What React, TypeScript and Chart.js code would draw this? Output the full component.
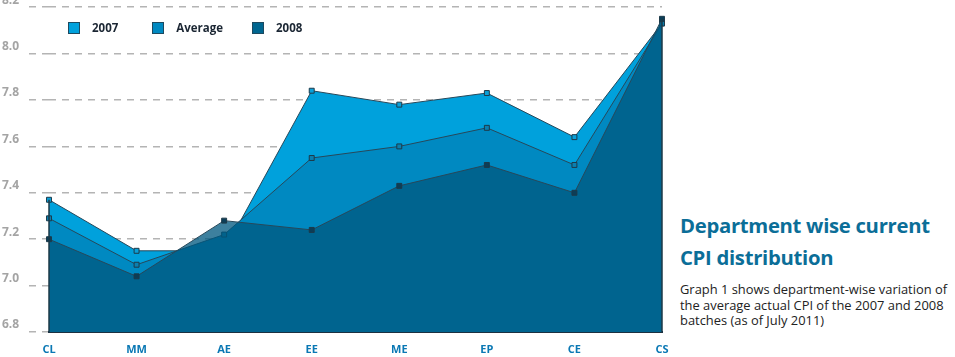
import React, { useEffect, useRef } from "react";
import { Chart, registerables } from "chart.js";

Chart.register(...registerables);

const categories = ["CL", "MM", "AE", "EE", "ME", "EP", "CE", "CS"];
const series2007 = [7.37, 7.15, 7.15, 7.84, 7.78, 7.83, 7.64, 8.13];
const seriesAverage = [7.29, 7.09, 7.22, 7.55, 7.6, 7.68, 7.52, 8.13];
const series2008 = [7.2, 7.04, 7.28, 7.24, 7.43, 7.52, 7.4, 8.15];
const seriesNames = ["2007", "Average", "2008"];
const yTicks = [6.8, 7.0, 7.2, 7.4, 7.6, 7.8, 8.0, 8.2];

const titleLines = ["Department wise current", "CPI distribution"];
const bodyLines = [
  "Graph 1 shows department-wise variation of",
  "the average actual CPI of the 2007 and 2008",
  "batches (as of July 2011)",
];

const fills = ["#00a1dc", "#0089c1", "rgba(0,88,128,0.76)"];
const legendFills = ["#00a1dc", "#0089c1", "#006690"];
const pointFills = ["#0aa0d8", "#0a80b0", "#0c3e58"];
const edgeColor = "#1d3846";

const edgePlugin = {
  id: "edges",
  afterDatasetsDraw(chart: any) {
    const { ctx, chartArea } = chart;
    const metas = chart.data.datasets.map((_: any, i: number) => chart.getDatasetMeta(i));
    const last = categories.length - 1;
    ctx.save();
    ctx.strokeStyle = edgeColor;
    ctx.lineWidth = 1.5;
    [0, last].forEach((idx) => {
      let minY = Infinity;
      let x = 0;
      metas.forEach((m: any) => {
        const el = m.data[idx];
        if (el && el.y < minY) {
          minY = el.y;
          x = el.x;
        }
      });
      ctx.beginPath();
      ctx.moveTo(x, minY);
      ctx.lineTo(x, chartArea.bottom);
      ctx.stroke();
    });
    ctx.restore();
  },
};

export default function App() {
  const ref = useRef<HTMLCanvasElement>(null);

  useEffect(() => {
    const allSeries = [series2007, seriesAverage, series2008];
    const chart = new Chart(ref.current!, {
      type: "line",
      data: {
        labels: categories,
        datasets: allSeries.map((d, i) => ({
          label: seriesNames[i],
          data: d,
          order: 3 - i,
          fill: "start",
          backgroundColor: fills[i],
          borderColor: "#27485a",
          borderWidth: 1,
          tension: 0,
          pointStyle: "rect",
          pointRadius: 3.5,
          pointBackgroundColor: pointFills[i],
          pointBorderColor: "#1d3a4a",
          pointBorderWidth: 1,
        })),
      },
      options: {
        responsive: false,
        animation: false,
        layout: { padding: { top: 7, left: 2, right: 18, bottom: 0 } },
        plugins: {
          legend: { display: false },
          tooltip: { enabled: false },
        },
        scales: {
          x: {
            grid: { display: false },
            border: { display: true, color: "#1d3040", width: 2 },
            ticks: {
              color: "#0a78b4",
              font: { family: "'Open Sans'", size: 11, weight: "bold" },
              padding: 3,
              maxRotation: 0,
            },
            afterFit: (s: any) => {
              s.height = 25;
            },
          },
          y: {
            min: 6.8,
            max: 8.2,
            afterBuildTicks: (s: any) => {
              s.ticks = yTicks.map((v) => ({ value: v }));
            },
            afterFit: (s: any) => {
              s.width = 47;
            },
            border: { display: false, dash: [7, 6] },
            grid: {
              color: "#b4b4b4",
              lineWidth: 1.5,
              tickBorderDash: [7, 6],
              tickLength: 20,
              tickColor: "#b4b4b4",
              tickWidth: 1.5,
            },
            ticks: {
              color: "#a4a4a4",
              crossAlign: "far",
              labelOffset: -7,
              padding: 0,
              font: { family: "'Open Sans'", size: 12, weight: "bold" },
              callback: (v: any) => Number(v).toFixed(1),
            },
          },
        },
      },
      plugins: [edgePlugin],
    } as any);
    return () => chart.destroy();
  }, []);

  return (
    <div style={{ position: "absolute", left: 0, top: 0, width: 955, height: 357, background: "#fff", overflow: "hidden" }}>
      <canvas ref={ref} width={680} height={357} style={{ position: "absolute", left: 0, top: 0 }} />
      <div style={{ position: "absolute", left: 68, top: 20, display: "flex", fontFamily: "'Open Sans', sans-serif", fontWeight: 700, fontSize: 11.5, color: "#1b2633" }}>
        {seriesNames.map((n, i) => (
          <div key={n} style={{ display: "flex", alignItems: "center", marginRight: i === 0 ? 34 : 29 }}>
            <span style={{ width: 12, height: 12, boxSizing: "border-box", background: legendFills[i], border: "1px solid #1d4a60", marginRight: 12, display: "inline-block" }} />
            <span>{n}</span>
          </div>
        ))}
      </div>
      <div style={{ position: "absolute", left: 680, top: 209, fontFamily: "'Open Sans', sans-serif" }}>
        {titleLines.map((t) => (
          <div key={t} style={{ fontWeight: 700, fontSize: 20.3, lineHeight: "32px", color: "#0b6e98", whiteSpace: "nowrap", letterSpacing: -0.3 }}>
            {t}
          </div>
        ))}
        <div style={{ marginTop: 9 }}>
          {bodyLines.map((t) => (
            <div key={t} style={{ fontSize: 12.9, lineHeight: "15.5px", color: "#222", whiteSpace: "nowrap" }}>
              {t}
            </div>
          ))}
        </div>
      </div>
    </div>
  );
}
